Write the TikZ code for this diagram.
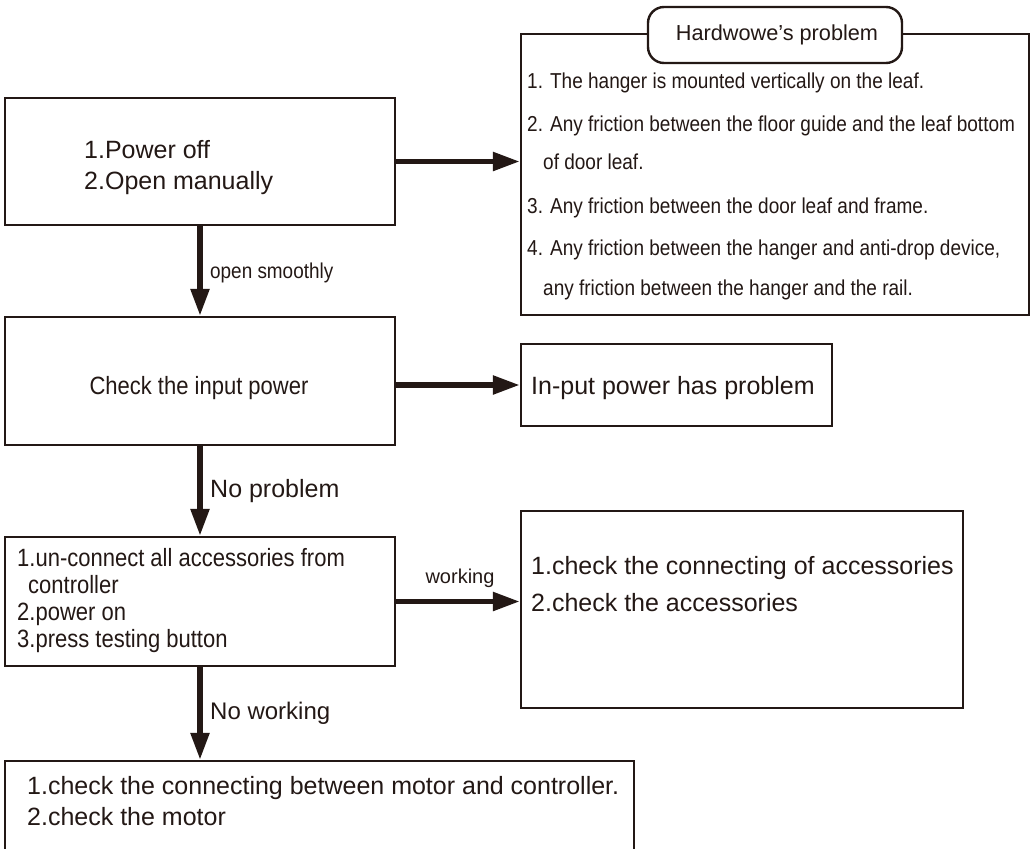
\documentclass[tikz,border=0pt]{standalone}
\usepackage{fontspec}
\setmainfont{Liberation Sans}
\newfontfamily\cn[FakeStretch=0.88]{Liberation Sans}
\usetikzlibrary{arrows.meta}
\definecolor{ink}{HTML}{231815}
\tikzset{
  box/.style={draw=ink, line width=2.4pt, fill=white, inner sep=0pt, rectangle},
  hdr/.style={box, rounded corners=16pt},
  arr/.style={draw=ink, line width=5.5pt, -{Triangle[length=27pt,width=18pt]}},
  txt/.style={inner sep=0pt, anchor=base west, text=ink},
  ctxt/.style={inner sep=0pt, anchor=base, text=ink}
}
\begin{document}
\begin{tikzpicture}[x=1pt,y=-1pt]
\useasboundingbox (0,0) rectangle (1034,849);
% boxes
\node[box, minimum width=390pt, minimum height=127pt] (b1) at (200,161.5) {};
\node[box, minimum width=390pt, minimum height=128pt] (b2) at (200,381) {};
\node[box, minimum width=390pt, minimum height=129pt] (b3) at (200,601.5) {};
\node[box, minimum width=629pt, minimum height=91pt] (b5) at (319.5,806.5) {};
\node[box, minimum width=508pt, minimum height=281pt] (hw) at (775,174.5) {};
\node[hdr, minimum width=254pt, minimum height=56pt] (hd) at (775,35) {};
\node[box, minimum width=311pt, minimum height=82pt] (inp) at (676.5,385) {};
\node[box, minimum width=442pt, minimum height=197pt] (b4) at (742,609.5) {};
% header
\node[ctxt, font=\fontsize{21.7}{24}\selectfont] (hdt) at (777,40) {Hardwowe’s problem};
% hardware list
\begin{scope}[font=\cn\fontsize{21.6}{24}\selectfont]
\node[txt] (h1) at (527,88) {1. The hanger is mounted vertically on the leaf.};
\node[txt] (h2) at (527,131) {2. Any friction between the floor guide and the leaf bottom};
\node[txt] (h3) at (543,169) {of door leaf.};
\node[txt] (h4) at (527,213) {3. Any friction between the door leaf and frame.};
\node[txt] (h5) at (527,255) {4. Any friction between the hanger and anti-drop device,};
\node[txt] (h6) at (543,295) {any friction between the hanger and the rail.};
\end{scope}
% box 1
\begin{scope}[font=\fontsize{25}{28}\selectfont]
\node[txt] (t11) at (84,158) {1.Power off};
\node[txt] (t12) at (84,189) {2.Open manually};
\node[txt] (ti) at (531,394) {In-put power has problem};
\node[txt] (t41) at (531,574) {1.check the connecting of accessories};
\node[txt] (t42) at (531,611) {2.check the accessories};
\node[txt] (t51) at (27,794) {1.check the connecting between motor and controller.};
\node[txt] (t52) at (27,825) {2.check the motor};
\node[txt] (lnp) at (210,497) {No problem};
\end{scope}
\node[ctxt, font=\cn\fontsize{25}{28}\selectfont] (t2) at (199,394) {Check the input power};
\begin{scope}[font=\cn\fontsize{25}{28}\selectfont]
\node[txt] (t31) at (17,566) {1.un-connect all accessories from};
\node[txt] (t32) at (28,593) {controller};
\node[txt] (t33) at (17,620) {2.power on};
\node[txt] (t34) at (17,647) {3.press testing button};
\end{scope}
\node[txt, font=\cn\fontsize{21.5}{24}\selectfont] (los) at (210,278) {open smoothly};
\node[ctxt, font=\fontsize{20}{24}\selectfont] (lw) at (460,583) {working};
\node[txt, font=\fontsize{24}{28}\selectfont] (lnw) at (210,719) {No working};
% arrows
\draw[arr] (b1.east) -- (b1.east -| hw.west);
\draw[arr] (b1.south) -- (b2.north);
\draw[arr] (b2.east |- inp.west) -- (inp.west);
\draw[arr] (b2.south) -- (b3.north);
\draw[arr] (b3.east) -- (b3.east -| b4.west);
\draw[arr] (b3.south) -- (b3.south |- b5.north);
\end{tikzpicture}
\end{document}
